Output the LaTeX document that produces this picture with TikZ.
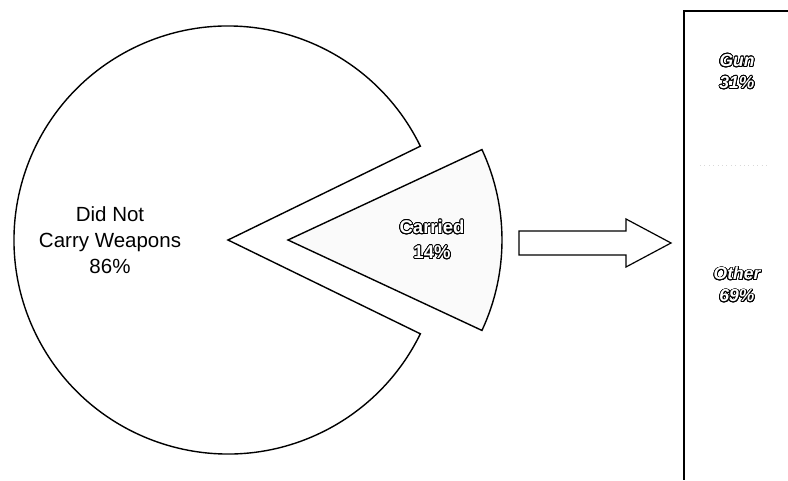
\documentclass[tikz,border=0pt]{standalone}
\usepackage{fontspec}
\setmainfont{Liberation Sans}
\usepackage{contour}
\contourlength{0.8pt}
\contournumber{24}
\newcommand{\hollow}[1]{\contour{black}{#1}}
\tikzset{
  piecut/.style={draw=black,line width=1.4pt,line join=miter},
  plainlbl/.style={align=center,font=\fontsize{20.5}{26}\selectfont},
  hollowlbl/.style={align=center,text=white,font=\fontsize{18.5}{25}\selectfont\bfseries},
  barlbl/.style={align=center,text=white,font=\fontsize{17.5}{22}\selectfont\bfseries\itshape}
}
\begin{document}
\begin{tikzpicture}[x=1pt,y=1pt]
\useasboundingbox (0,0) rectangle (788,480);
% big slice and the pulled out one
\draw[piecut,fill=white] (228,240) -- ++(26:214) arc[start angle=26,end angle=334,radius=214] -- cycle;
\draw[piecut,fill=black!2] (288,240) -- ++(-25:214) arc[start angle=-25,end angle=25,radius=214] -- cycle;
\node[plainlbl] (notcarried) at (110,240) {Did Not\\Carry Weapons\\86\%};
\node[hollowlbl] (carried) at (432,240) {\hollow{Carried}\\\hollow{14\%}};
% block arrow
\draw[line width=1.2pt,line join=miter] (519,225) -- (626,225) -- (626,213) -- (671,237)
  -- (626,261) -- (626,249) -- (519,249) -- cycle;
% stacked bar
\draw[line width=1.3pt] (788,469) -- (684,469) -- (684,0);
\draw[black!15,loosely dotted] (700,315) -- (770,315);
\node[barlbl] (gun) at (737,408) {\hollow{Gun}\\\hollow{31\%}};
\node[barlbl] (other) at (737,195) {\hollow{Other}\\\hollow{69\%}};
\end{tikzpicture}
\end{document}
